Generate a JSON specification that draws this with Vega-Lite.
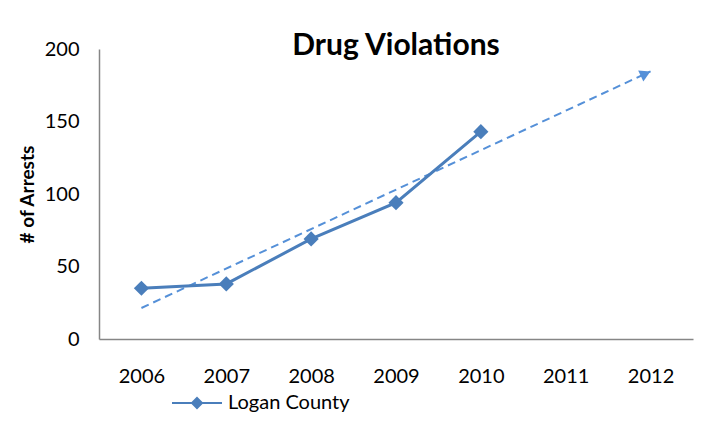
{
  "$schema": "https://vega.github.io/schema/vega-lite/v6.json",
  "width": 594,
  "height": 290,
  "autosize": {"type": "none"},
  "padding": {"left": 99, "top": 49, "right": 24, "bottom": 86},
  "background": "white",
  "config": {"view": {"stroke": null}, "font": "Lato"},
  "title": {
    "text": "Drug Violations",
    "font": "Lato",
    "fontSize": 30,
    "fontWeight": "bold",
    "color": "#000000",
    "anchor": "middle",
    "frame": "group",
    "offset": 0,
    "dy": 22
  },
  "datasets": {
    "series": [
      {"year": "2006", "arrests": 35, "series": "Logan County"},
      {"year": "2007", "arrests": 38, "series": "Logan County"},
      {"year": "2008", "arrests": 69, "series": "Logan County"},
      {"year": "2009", "arrests": 94, "series": "Logan County"},
      {"year": "2010", "arrests": 143, "series": "Logan County"}
    ],
    "trend": [
      {"year": "2006", "arrests": 21.4},
      {"year": "2012", "arrests": 184.6}
    ],
    "arrow": [
      {"year": "2012", "arrests": 184.6}
    ]
  },
  "encoding": {
    "x": {
      "field": "year",
      "type": "ordinal",
      "scale": {"type": "point", "padding": 0.5, "domain": ["2006", "2007", "2008", "2009", "2010", "2011", "2012"]},
      "axis": {
        "title": null,
        "labelAngle": 0,
        "ticks": false,
        "grid": false,
        "domainColor": "#868686",
        "domainWidth": 1.5,
        "labelFont": "Lato",
        "labelFontSize": 20,
        "labelColor": "#000000",
        "labelPadding": 27
      }
    },
    "y": {
      "field": "arrests",
      "type": "quantitative",
      "scale": {"domain": [0, 200], "nice": false, "zero": true},
      "axis": {
        "title": "# of Arrests",
        "titleFont": "Lato",
        "titleFontSize": 19,
        "titleFontWeight": "bold",
        "titleColor": "#000000",
        "titlePadding": 7,
        "values": [0, 50, 100, 150, 200],
        "ticks": false,
        "grid": false,
        "domainColor": "#868686",
        "domainWidth": 1.5,
        "labelFont": "Lato",
        "labelFontSize": 20,
        "labelColor": "#000000",
        "labelPadding": 20
      }
    }
  },
  "layer": [
    {
      "data": {"name": "trend"},
      "mark": {"type": "line", "color": "#5590D8", "strokeWidth": 2, "strokeDash": [8, 5]}
    },
    {
      "data": {"name": "arrow"},
      "mark": {"type": "point", "shape": "triangle-right", "angle": 335, "size": 150, "filled": true, "color": "#5590D8", "opacity": 1, "xOffset": -5, "yOffset": 2.5}
    },
    {
      "data": {"name": "series"},
      "mark": {
        "type": "line",
        "strokeWidth": 3,
        "point": {"shape": "diamond", "size": 230, "filled": true, "opacity": 1}
      },
      "encoding": {
        "color": {
          "field": "series",
          "type": "nominal",
          "scale": {"range": ["#4A7EBB"]},
          "legend": {
            "title": null,
            "orient": "none",
            "legendX": 88,
            "legendY": 344,
            "padding": 0,
            "symbolSize": 100,
            "symbolType": "M-5,0H5M0,-1L1,0L0,1L-1,0Z",
            "labelOffset": 21,
            "labelFont": "Lato",
            "labelFontSize": 20,
            "labelColor": "#000000",
            "encode": {
              "symbols": {
                "update": {
                  "fill": {"value": "#4A7EBB"},
                  "stroke": {"value": "#4A7EBB"},
                  "strokeWidth": {"value": 2},
                  "shape": {"value": "M-5,0H5M0,-1L1,0L0,1L-1,0Z"},
                  "opacity": {"value": 1}
                }
              }
            }
          }
        }
      }
    }
  ]
}
